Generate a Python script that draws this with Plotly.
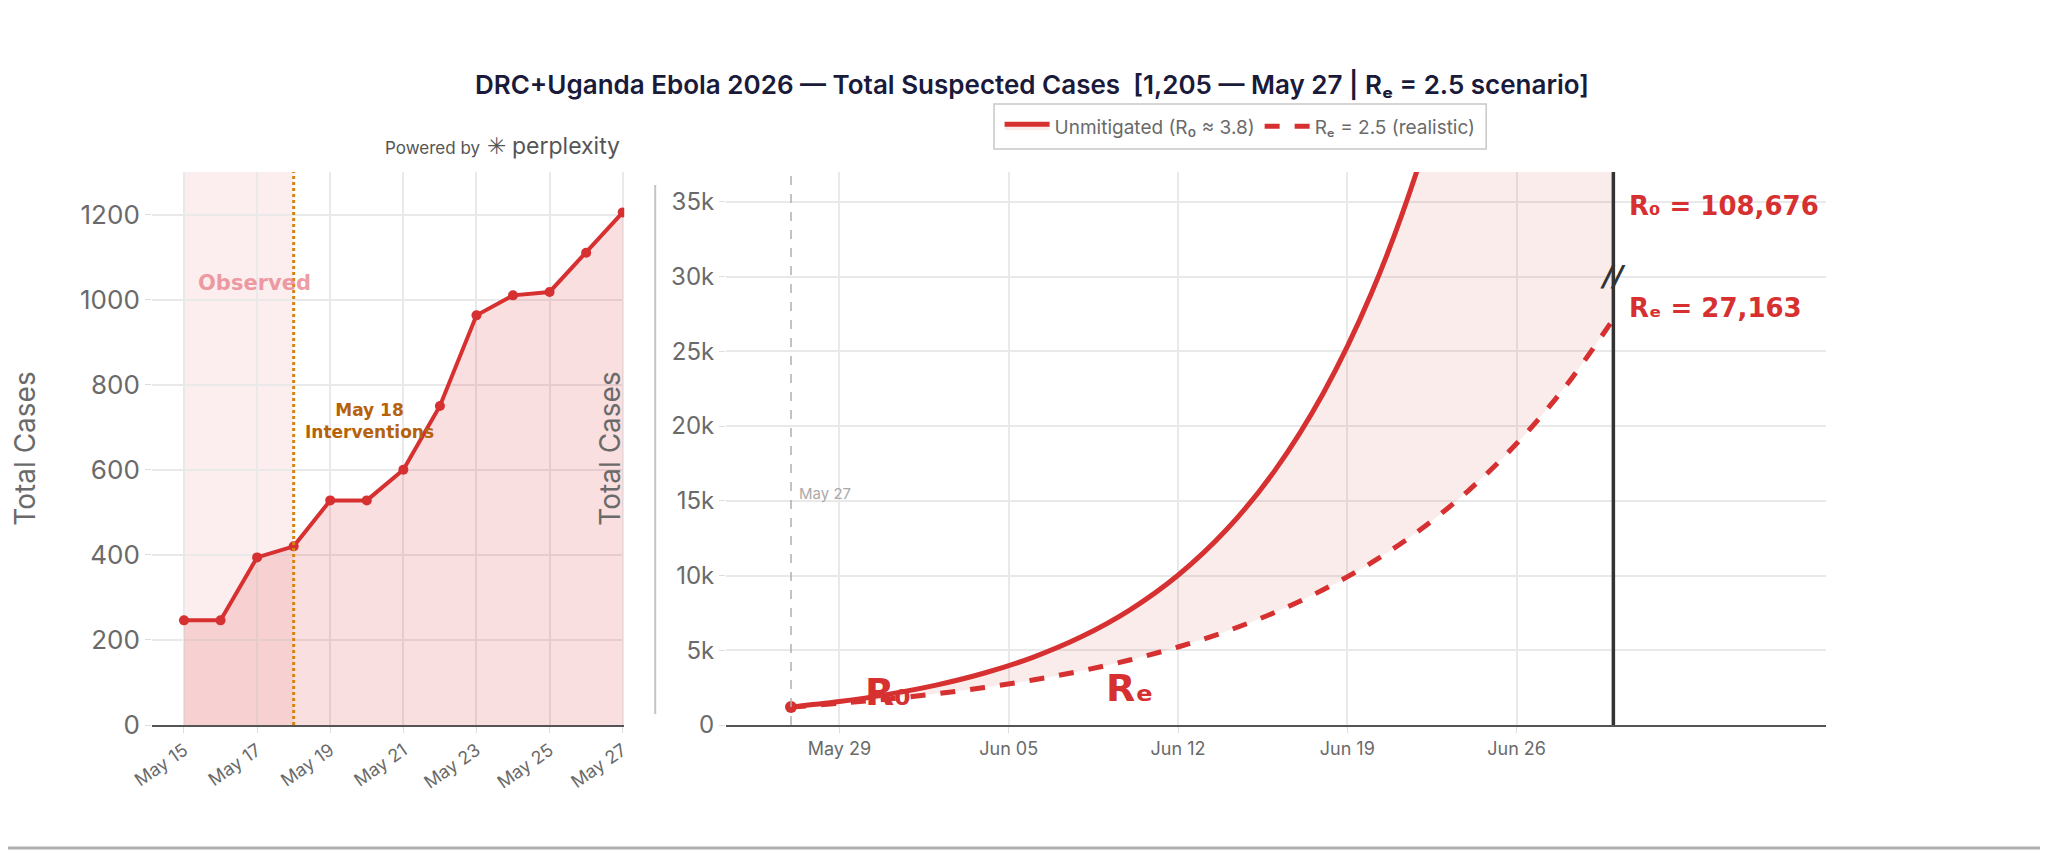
import plotly.graph_objects as go

# ---------------- data ----------------
obs_dates = ["2026-05-15", "2026-05-16", "2026-05-17", "2026-05-18", "2026-05-19",
             "2026-05-20", "2026-05-21", "2026-05-22", "2026-05-23", "2026-05-24",
             "2026-05-25", "2026-05-26", "2026-05-27"]
obs_cases = [246, 246, 394, 420, 528, 528, 600, 750, 963, 1010, 1018, 1110, 1205]

proj_dates = ["2026-05-27", "2026-05-29", "2026-05-31", "2026-06-02", "2026-06-04",
              "2026-06-06", "2026-06-08", "2026-06-10", "2026-06-12", "2026-06-14",
              "2026-06-16", "2026-06-18", "2026-06-20", "2026-06-22", "2026-06-24",
              "2026-06-26", "2026-06-28", "2026-06-30"]
r0_cases = [1205, 1570, 2050, 2670, 3480, 4530, 5900, 7690, 10020, 13060,
            17020, 22180, 28900, 37670, 49100, 63980, 83380, 108676]
re_cases = [1205, 1450, 1740, 2090, 2510, 3010, 3620, 4350, 5220, 6270,
            7530, 9050, 10860, 13050, 15670, 18830, 22610, 27163]

left_ticks = ["2026-05-15", "2026-05-17", "2026-05-19", "2026-05-21",
              "2026-05-23", "2026-05-25", "2026-05-27"]
right_ticks = ["2026-05-29", "2026-06-05", "2026-06-12", "2026-06-19", "2026-06-26"]
left_yticks = [0, 200, 400, 600, 800, 1000, 1200]
right_yticks = [0, 5000, 10000, 15000, 20000, 25000, 30000, 35000]
right_yticklabels = ["0", "5k", "10k", "15k", "20k", "25k", "30k", "35k"]

interv_date = "2026-05-18"
last_obs_date = "2026-05-27"
horizon_date = "2026-06-30"
r0_final = "R\u2080 = 108,676"
re_final = "R\u2091 = 27,163"

RED = "#d63031"
GRAY = "#6a6a6a"
FONT = "Inter, Roboto, sans-serif"
BOLD = "DejaVu Sans, sans-serif"

fig = go.Figure()

# left: observed
fig.add_trace(go.Scatter(
    x=obs_dates, y=obs_cases, mode="lines+markers",
    line=dict(color=RED, width=4), marker=dict(color=RED, size=10),
    fill="tozeroy", fillcolor="rgba(220,40,50,0.15)",
    showlegend=False, xaxis="x", yaxis="y"))

# right: projections (Re first so R0 can fill to it)
fig.add_trace(go.Scatter(
    x=proj_dates, y=re_cases, mode="lines", line_shape="spline",
    line=dict(color=RED, width=5, dash="dash"),
    name="R\u2091 = 2.5 (realistic)", legendrank=2, xaxis="x2", yaxis="y2"))
fig.add_trace(go.Scatter(
    x=proj_dates, y=r0_cases, mode="lines", line_shape="spline",
    line=dict(color=RED, width=5),
    fill="tonexty", fillcolor="rgba(214,48,49,0.09)",
    name="Unmitigated (R\u2080 \u2248 3.8)", legendrank=1, xaxis="x2", yaxis="y2"))
fig.add_trace(go.Scatter(
    x=[last_obs_date], y=[obs_cases[-1]], mode="markers",
    marker=dict(color=RED, size=12), showlegend=False, xaxis="x2", yaxis="y2"))

axis_common = dict(showgrid=True, gridcolor="#e9e9e9", gridwidth=1.5,
                   ticks="outside", ticklen=6, tickcolor="#dddddd")

fig.update_layout(
    width=2048, height=851,
    paper_bgcolor="white", plot_bgcolor="white",
    margin=dict(l=138, r=230, t=164, b=134),
    font=dict(family=FONT, color=GRAY),
    title=dict(text="DRC+Uganda Ebola 2026 \u2014 Total Suspected Cases  [1,205 \u2014 May 27 | R\u2091 = 2.5 scenario]",
               x=0.5, xanchor="center", y=0.9095, yanchor="middle", yref="container",
               font=dict(family=FONT, size=26, color="#1a1a3a", weight=600)),
    xaxis=dict(domain=[0, 0.2821], type="date",
               range=["2026-05-14 03:00", "2026-05-27 01:00"],
               tickvals=left_ticks, tickformat="%b %d", tickangle=-35,
               showline=True, linecolor="#555555", linewidth=2,
               tickfont=dict(family=FONT, color=GRAY, size=18), **axis_common),
    yaxis=dict(domain=[0, 1], range=[0, 1300], tickvals=left_yticks,
               title=dict(text="Total Cases", font=dict(family=FONT, size=28, color=GRAY), standoff=40),
               zeroline=False,
               tickfont=dict(family=FONT, color=GRAY, size=26), **axis_common),
    xaxis2=dict(domain=[0.3429, 1.0], type="date", anchor="y2",
                range=["2026-05-24 07:30", "2026-07-08 19:00"],
                tickvals=right_ticks, tickformat="%b %d", tickangle=0,
                showline=True, linecolor="#555555", linewidth=2,
                tickfont=dict(family=FONT, color=GRAY, size=18), **axis_common),
    yaxis2=dict(domain=[0, 1], anchor="x2", range=[0, 37000],
                tickvals=right_yticks, ticktext=right_yticklabels,
                title=dict(text="Total Cases", font=dict(family=FONT, size=28, color=GRAY), standoff=42),
                zeroline=False,
                tickfont=dict(family=FONT, color=GRAY, size=24), **axis_common),
    legend=dict(orientation="h", x=0.65, xanchor="center", y=1.0825, yanchor="middle",
                traceorder="normal", itemwidth=45,
                borderwidth=0, bgcolor="rgba(0,0,0,0)",
                font=dict(family=FONT, size=19, color=GRAY)),
)

shapes = [
    dict(type="rect", xref="x", yref="y domain", x0="2026-05-15", x1=interv_date, y0=0, y1=1,
         fillcolor="rgba(220,40,50,0.08)", line=dict(width=0), layer="below"),
    dict(type="line", xref="x", yref="y domain", x0=interv_date, x1=interv_date, y0=0, y1=1,
         line=dict(color="#d4860b", width=3, dash="dot")),
    dict(type="line", xref="x2", yref="y2 domain", x0=last_obs_date, x1=last_obs_date, y0=0, y1=1,
         line=dict(color="#b0b0b0", width=1.5, dash="dash")),
    dict(type="line", xref="x2", yref="y2 domain", x0=horizon_date, x1=horizon_date, y0=0, y1=1,
         line=dict(color="#333333", width=3.5)),
    dict(type="line", xref="paper", yref="paper", x0=0.3006, x1=0.3006, y0=0.02, y1=0.9765,
         line=dict(color="#c4c4c4", width=2)),
    dict(type="line", xref="paper", yref="paper", x0=-0.09, x1=1.14, y0=-0.2225, y1=-0.2225,
         line=dict(color="#b0b0b0", width=3)),
    # legend frame
    dict(type="rect", xref="paper", yref="paper", x0=0.503, x1=0.797, y0=1.0416, y1=1.123,
         line=dict(color="#c8c8c8", width=1.5), fillcolor="white", layer="below"),
]
fig.update_layout(shapes=shapes)

annotations = [
    dict(text="<b>Observed</b>", xref="x", yref="y", x="2026-05-16 22:00", y=1040,
         showarrow=False, font=dict(family=BOLD, size=21, color="rgba(232,130,140,0.8)")),
    dict(text="<b>May 18<br>Interventions</b>", xref="x", yref="y", x="2026-05-20 02:00", y=715,
         showarrow=False, font=dict(family=BOLD, size=17, color="#b5620a")),
    dict(text="May 27", xref="x2", yref="y2", x=last_obs_date, y=15500, xanchor="left", xshift=6,
         showarrow=False, font=dict(family=FONT, size=15, color="#aaaaaa")),
    dict(text="<b>R\u2080</b>", xref="x2", yref="y2", x="2026-05-31", y=2200,
         showarrow=False, font=dict(family=BOLD, size=38, color=RED)),
    dict(text="<b>R\u2091</b>", xref="x2", yref="y2", x="2026-06-10", y=2500,
         showarrow=False, font=dict(family=BOLD, size=38, color=RED)),
    dict(text="<b>" + r0_final + "</b>", xref="x2", yref="y2", x=horizon_date, y=34700,
         xanchor="left", xshift=14, showarrow=False, font=dict(family=BOLD, size=26, color=RED)),
    dict(text="<b>" + re_final + "</b>", xref="x2", yref="y2", x=horizon_date, y=27900,
         xanchor="left", xshift=14, showarrow=False, font=dict(family=BOLD, size=26, color=RED)),
    dict(text="<b><i>//</i></b>", xref="x2", yref="y2", x=horizon_date, y=30000,
         showarrow=False, font=dict(family=BOLD, size=28, color="#333333")),
    dict(text="<span style='font-size:17px'>Powered by</span> \u2733 perplexity", xref="paper", yref="paper",
         x=0.281, y=1.047, xanchor="right", yanchor="middle", showarrow=False,
         font=dict(family=FONT, size=23, color="#555555")),
]
fig.update_layout(annotations=annotations)

fig.write_html("out.html")
